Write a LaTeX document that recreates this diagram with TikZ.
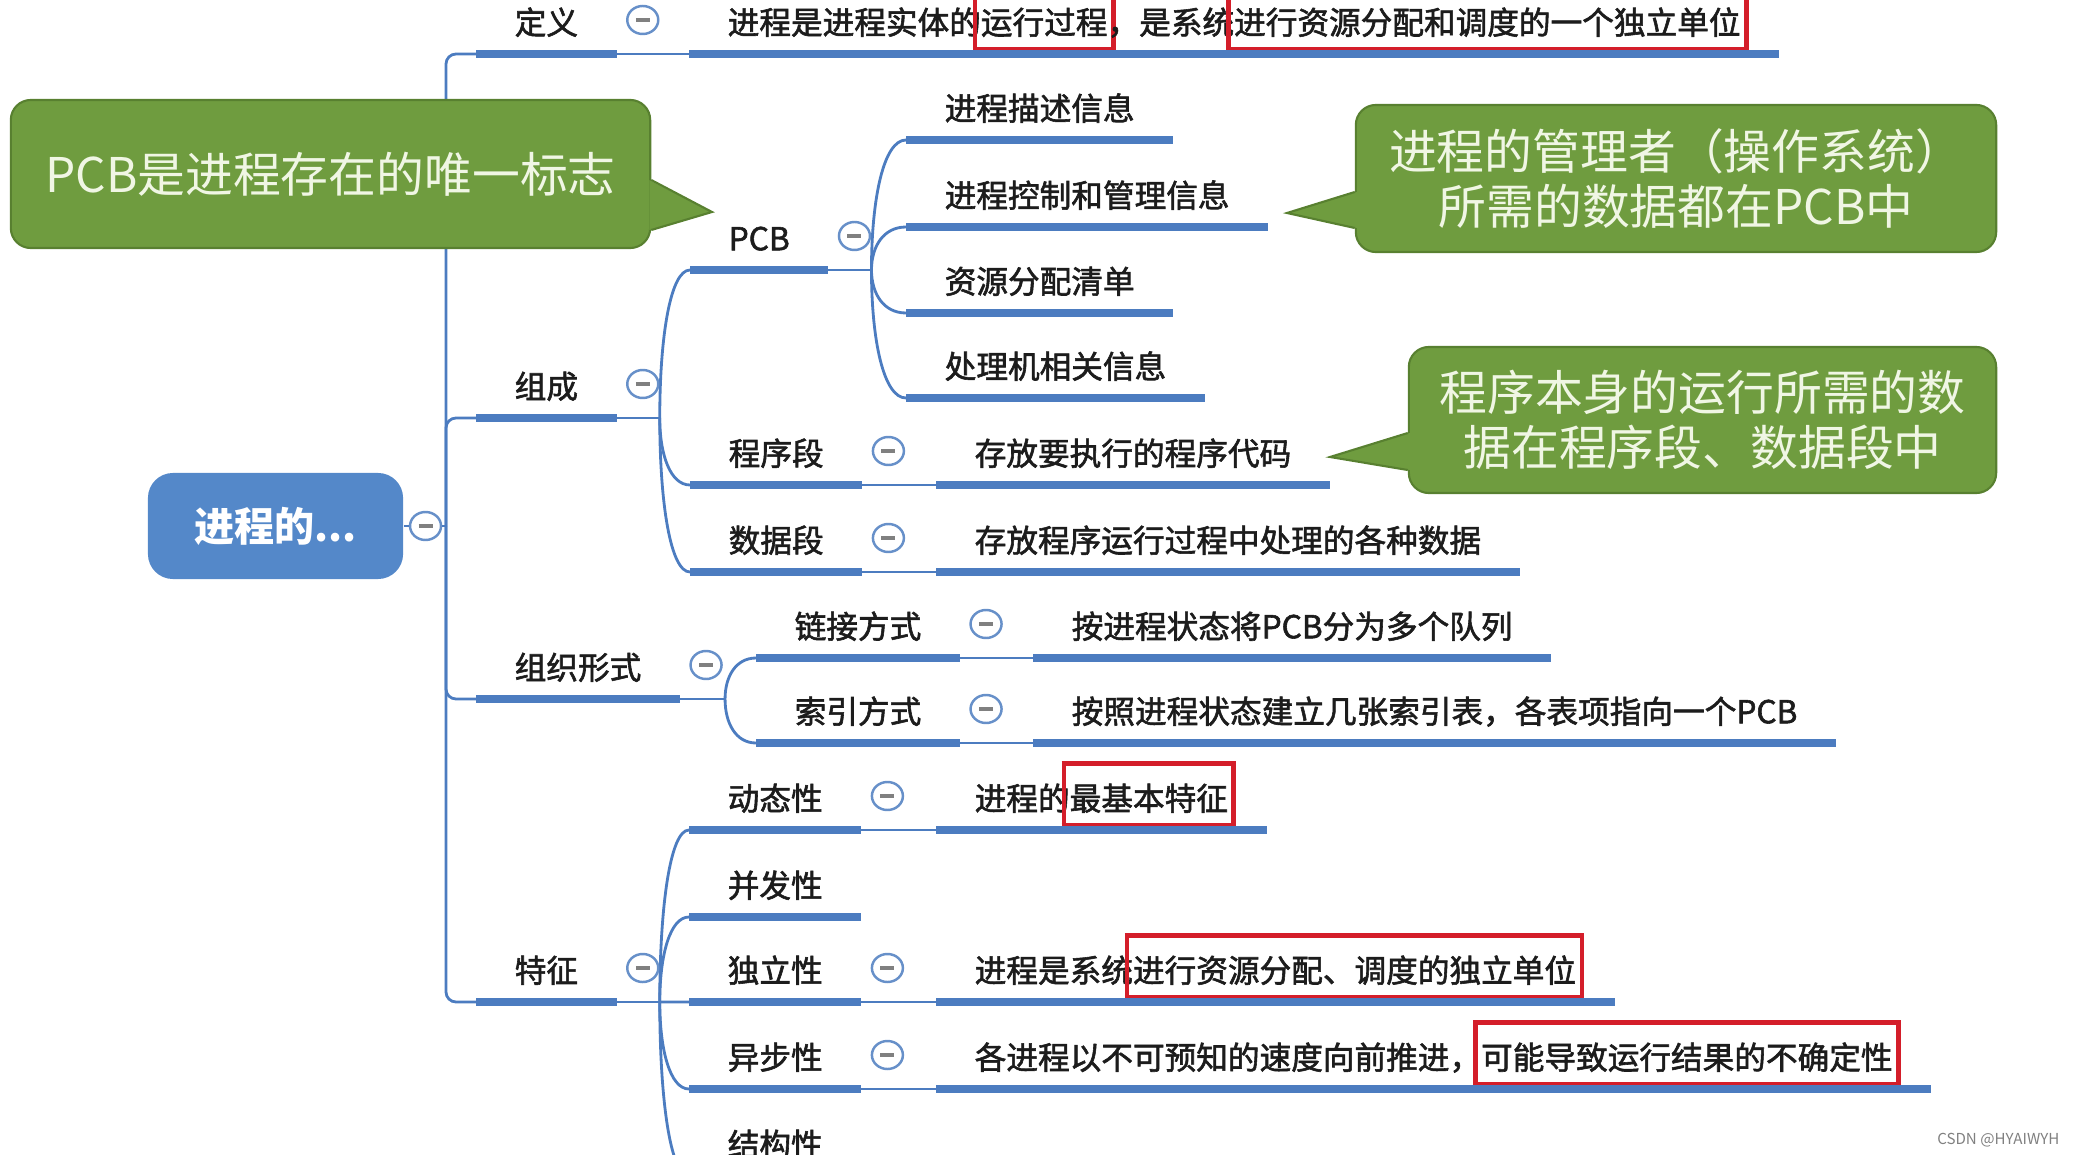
\documentclass[tikz,border=0pt]{standalone}
\usepackage{fontspec}
\setmainfont{Noto Sans CJK SC}
\newfontfamily\labelfont{Noto Sans CJK SC}[FakeBold=1.8]
\usetikzlibrary{positioning,calc,shapes.geometric}

\definecolor{mapblue}{RGB}{76,124,192}
\definecolor{rootblue}{RGB}{84,136,201}
\definecolor{notegreen}{RGB}{111,156,63}
\definecolor{noteedge}{RGB}{88,128,48}
\definecolor{notetext}{RGB}{240,246,228}
\definecolor{markred}{RGB}{212,30,42}
\definecolor{inkgray}{RGB}{28,28,28}

% red frame round a part of a label, the width of the text is kept
\newcommand{\hlbox}[1]{\kern-2.3pt{\color{markred}\fboxsep=1pt\fboxrule=1.3pt\fbox{\color{inkgray}\rule[-0.3em]{0pt}{1.6em}#1}}\kern-2.3pt}

\begin{document}
\begin{tikzpicture}[x=0.01cm,y=-0.01cm,
  topic/.style={anchor=south west,inner xsep=0.38cm,inner ysep=0pt,text height=0.28cm,text depth=0.19cm,font=\labelfont\fontsize{9}{11}\selectfont,text=inkgray},
  bar/.style={draw=mapblue,line width=0.08cm},
  link/.style={draw=mapblue,line width=0.8pt},
  fold/.style={ellipse,draw=mapblue!85,line width=0.7pt,fill=white,minimum width=0.31cm,minimum height=0.28cm,inner sep=0pt,
    path picture={\draw[gray,line width=0.9pt] ([xshift=-0.07cm]path picture bounding box.center) -- ([xshift=0.07cm]path picture bounding box.center);}},
  rootbox/.style={fill=rootblue,rounded corners=0.25cm,minimum width=2.55cm,minimum height=1.06cm,text=white,font=\fontsize{11.4}{13}\selectfont\bfseries},
  note/.style={fill=notegreen,draw=noteedge,line width=0.6pt,rounded corners=0.2cm,text=notetext,align=center,inner sep=0pt,font=\fontsize{13.6}{15.8}\selectfont},
  tail/.style={fill=notegreen},
  tailedge/.style={draw=noteedge,line width=0.6pt},
  wmark/.style={text=gray,font=\fontsize{4.3}{5}\selectfont,inner sep=0pt}]
\useasboundingbox (0,0) rectangle (2073,1155);
\newcommand{\topic}[4]{
  \node[topic] (#1) at (#2,#3) {#4};
  \draw[bar] (#1.south west) -- (#1.south east);
}
\newcommand{\fold}[1]{
  \node[fold] (#1-f) at ($(#1.south east)+(26,-34)$) {};
}

% root
\node[rootbox] (root) at (275.5,526) {进程的...};
\node[fold,right=0.05cm of root] (root-f) {};
\coordinate (hub) at (446,526);
\draw[link] (root.east) -- (root-f.west);
\draw[link] (root-f.east) -- (hub);

% first level
\topic{dy}{476}{54}{定义}
\topic{zc}{476}{418}{组成}
\topic{zz}{476}{699}{组织形式}
\topic{tz}{476}{1002}{特征}
\foreach \n in {dy,zc,zz,tz}
  \draw[link,rounded corners=0.1cm] (hub) |- (\n.south west);

% 定义
\topic{dy-t}{689}{54}{进程是进程实体的\hlbox{运行过程}，是系统\hlbox{进行资源分配和调度的一个独立单位}}
\draw[link] (dy.south east) -- (dy-t.south west);

% 组成
\topic{pcb}{690}{270}{PCB}
\topic{cxd}{690}{485}{程序段}
\topic{sjd}{690}{572}{数据段}
\coordinate (zc-b) at ($(zc.south east)+(43,0)$);
\draw[link] (zc.south east) -- (zc-b);
\foreach \n in {pcb,cxd,sjd}
  \draw[link] (zc-b) .. controls ($(zc-b |- \n.south west)!0.45!(zc-b)$) and ($(zc-b |- \n.south west)!0.35!(\n.south west)$) .. (\n.south west);

\foreach \n/\y/\txt in {pd/140/进程描述信息,pk/227/进程控制和管理信息,pz/313/资源分配清单,pj/398/处理机相关信息}{
  \topic{\n}{906}{\y}{\txt}
}
\coordinate (pcb-b) at ($(pcb.south east)+(43,0)$);
\draw[link] (pcb.south east) -- (pcb-b);
\foreach \n in {pd,pk,pz,pj}
  \draw[link] (pcb-b) .. controls ($(pcb-b |- \n.south west)!0.45!(pcb-b)$) and ($(pcb-b |- \n.south west)!0.35!(\n.south west)$) .. (\n.south west);

\topic{cxd-t}{936}{485}{存放要执行的程序代码}
\topic{sjd-t}{936}{572}{存放程序运行过程中处理的各种数据}
\draw[link] (cxd.south east) -- (cxd-t.south west);
\draw[link] (sjd.south east) -- (sjd-t.south west);

% 组织形式
\topic{lj}{756}{658}{链接方式}
\topic{sy}{756}{743}{索引方式}
\coordinate (zz-b) at ($(zz.south east)+(45,0)$);
\draw[link] (zz.south east) -- (zz-b);
\foreach \n in {lj,sy}
  \draw[link] (zz-b) .. controls ($(zz-b |- \n.south west)!0.45!(zz-b)$) and ($(zz-b |- \n.south west)!0.35!(\n.south west)$) .. (\n.south west);
\topic{lj-t}{1033}{658}{按进程状态将PCB分为多个队列}
\topic{sy-t}{1033}{743}{按照进程状态建立几张索引表，各表项指向一个PCB}
\draw[link] (lj.south east) -- (lj-t.south west);
\draw[link] (sy.south east) -- (sy-t.south west);

% 特征
\foreach \n/\y/\txt in {dt/830/动态性,bf/917/并发性,dl/1002/独立性,yb/1089/异步性,jg/1176/结构性}{
  \topic{\n}{689}{\y}{\txt}
}
\coordinate (tz-b) at ($(tz.south east)+(43,0)$);
\draw[link] (tz.south east) -- (tz-b);
\foreach \n in {dt,bf,dl,yb,jg}
  \draw[link] (tz-b) .. controls ($(tz-b |- \n.south west)!0.45!(tz-b)$) and ($(tz-b |- \n.south west)!0.35!(\n.south west)$) .. (\n.south west);
\topic{dt-t}{936}{830}{进程的\hlbox{最基本特征}}
\topic{dl-t}{936}{1002}{进程是系统\hlbox{进行资源分配、调度的独立单位}}
\topic{yb-t}{936}{1089}{各进程以不可预知的速度向前推进，\hlbox{可能导致运行结果的不确定性}}
\foreach \n in {dt,dl,yb}
  \draw[link] (\n.south east) -- (\n-t.south west);

\foreach \n in {dy,zc,pcb,cxd,sjd,zz,lj,sy,tz,dt,dl,yb}{
  \fold{\n}
}

% notes
\node[note,minimum width=6.39cm,minimum height=1.48cm] (n1) at (330.5,174) {PCB是进程存在的唯一标志};
\coordinate (n1-tip) at (712,212);
\fill[tail] ($(n1.east)+(-2,6)$) -- (n1-tip) -- ($(n1.east)+(-2,56)$) -- cycle;
\draw[tailedge] ($(n1.east)+(0,6)$) -- (n1-tip) -- ($(n1.east)+(0,56)$);

\node[note,minimum width=6.40cm,minimum height=1.47cm] (n2) at (1676,178.5) {进程的管理者（操作系统）\\所需的数据都在PCB中};
\coordinate (n2-tip) at (1287,213);
\fill[tail] ($(n2.west)+(2,13.5)$) -- (n2-tip) -- ($(n2.west)+(2,49.5)$) -- cycle;
\draw[tailedge] ($(n2.west)+(0,13.5)$) -- (n2-tip) -- ($(n2.west)+(0,49.5)$);

\node[note,minimum width=5.87cm,minimum height=1.46cm] (n3) at (1702.5,420) {程序本身的运行所需的数\\据在程序段、数据段中};
\coordinate (n3-tip) at (1330,457);
\fill[tail] ($(n3.west)+(2,13)$) -- (n3-tip) -- ($(n3.west)+(2,50)$) -- cycle;
\draw[tailedge] ($(n3.west)+(0,13)$) -- (n3-tip) -- ($(n3.west)+(0,50)$);

\node[wmark,anchor=east] (wm) at (2060,1140) {CSDN @HYAIWYH};
\end{tikzpicture}
\end{document}
